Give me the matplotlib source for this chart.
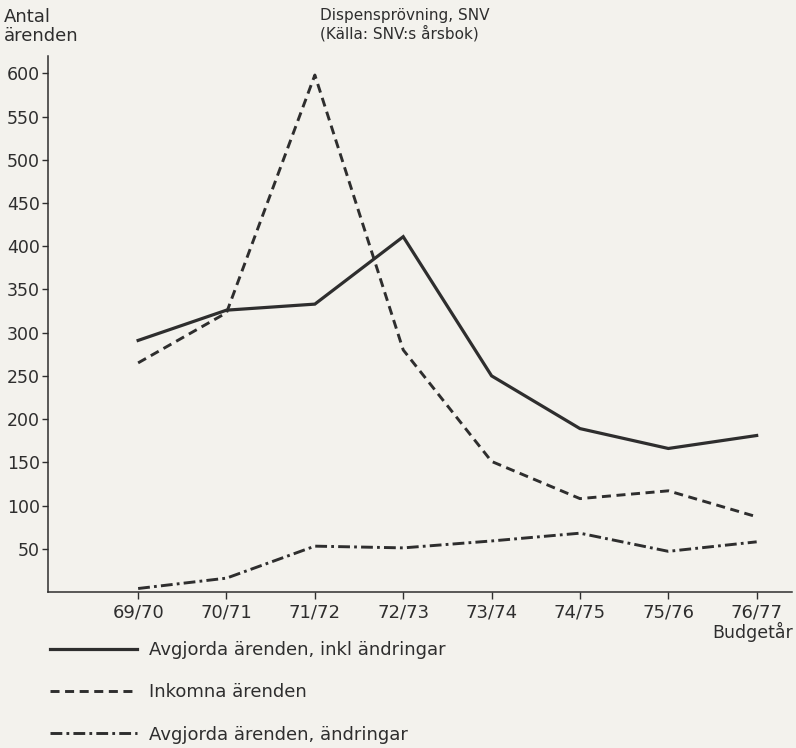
import matplotlib
matplotlib.use("Agg")
import matplotlib.pyplot as plt

years = ["69/70", "70/71", "71/72", "72/73", "73/74", "74/75", "75/76", "76/77"]
avgjorda_inkl = [291, 326, 333, 411, 250, 189, 166, 181]
inkomna = [265, 323, 598, 280, 151, 108, 117, 87]
avgjorda_andr = [4, 16, 53, 51, 59, 68, 47, 58]
y_ticks = [50, 100, 150, 200, 250, 300, 350, 400, 450, 500, 550, 600]

ink = "#2e2e2e"
paper = "#f3f2ed"
font = ["DejaVu Sans"]
plt.rcParams["lines.scale_dashes"] = False

fig = plt.figure(figsize=(7.96, 7.48), dpi=100, facecolor=paper)
ax = fig.add_axes([0.0603, 0.2086, 0.9347, 0.7165], facecolor=paper)

x = list(range(len(years)))
ax.plot(x, avgjorda_inkl, color=ink, lw=2.3, solid_joinstyle="miter",
        label="Avgjorda ärenden, inkl ändringar")
ax.plot(x, inkomna, color=ink, lw=2.1, dashes=(6.5, 4),
        label="Inkomna ärenden")
ax.plot(x, avgjorda_andr, color=ink, lw=2.1, dashes=(8.5, 3, 2, 3),
        label="Avgjorda ärenden, ändringar")

ax.set_xlim(-1.02, 7.4)
ax.set_ylim(0, 620)
ax.set_xticks(x)
ax.set_xticklabels(years, family=font, fontsize=13, color=ink)
ax.set_yticks(y_ticks)
ax.set_yticklabels([str(v) for v in y_ticks], family=font, fontsize=12.5, color=ink)
ax.tick_params(axis="x", direction="out", length=5, width=1, color=ink, pad=3)
ax.tick_params(axis="y", direction="out", length=4, width=1, color=ink, pad=2)
for side in ("top", "right"):
    ax.spines[side].set_visible(False)
for side in ("left", "bottom"):
    ax.spines[side].set_color(ink)
    ax.spines[side].set_linewidth(1.1)

fig.text(4 / 796, 1 - 8 / 748, "Antal\närenden", ha="left", va="top",
         family=font, fontsize=13, color=ink, linespacing=1.1)
fig.text(320 / 796, 1 - 8 / 748, "Dispensprövning, SNV\n(Källa: SNV:s årsbok)",
         ha="left", va="top", family=font, fontsize=11, color=ink, linespacing=1.15)
fig.text(793 / 796, 1 - 632 / 748, "Budgetår", ha="right", va="center",
         family=font, fontsize=12.5, color=ink)

leg = ax.legend(loc="upper left", bbox_to_anchor=(50 / 796, 1 - 641 / 748),
                bbox_transform=fig.transFigure, frameon=False, handlelength=4.8,
                handletextpad=0.7, labelspacing=1.35, borderpad=0, borderaxespad=0,
                prop={"family": font, "size": 13})
for t in leg.get_texts():
    t.set_color(ink)

fig.savefig("out.png", dpi=100, facecolor=paper)
